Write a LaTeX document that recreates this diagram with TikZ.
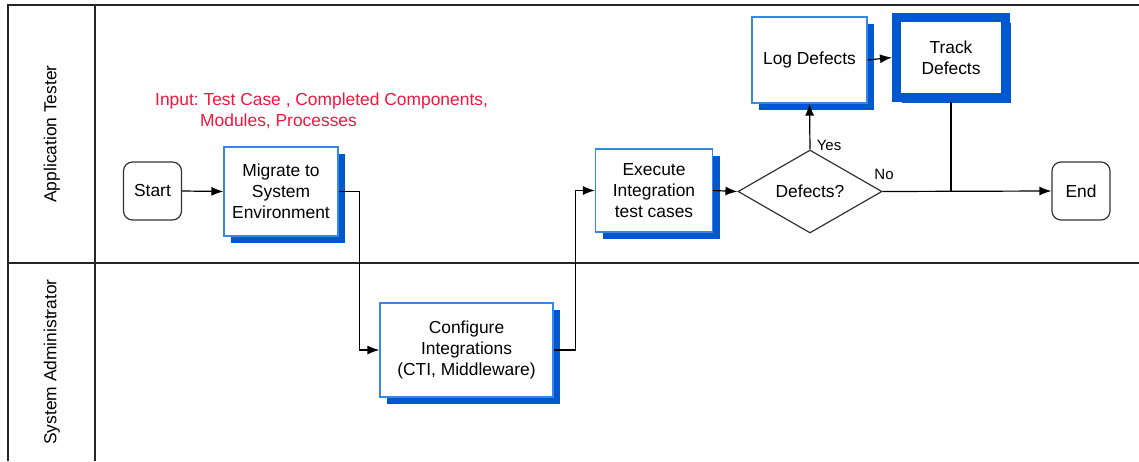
\documentclass[tikz,border=0pt]{standalone}
\usepackage{fontspec}
\setmainfont{Liberation Sans}
\usetikzlibrary{shapes.geometric,shadows,arrows.meta}
\definecolor{shadowblue}{RGB}{0,88,208}
\definecolor{boxblue}{RGB}{55,135,230}
\definecolor{inputred}{RGB}{245,20,60}
\frenchspacing
\tikzset{
  basefont/.style={font=\fontsize{17.4pt}{21pt}\selectfont},
  procbox/.style={basefont, draw=boxblue, line width=1.2pt, fill=white, align=center, inner sep=0pt,
    general shadow={fill=shadowblue, shadow xshift=7pt, shadow yshift=-7pt}},
  termbox/.style={basefont, draw=black!80, line width=1.2pt, fill=white, rounded corners=9pt, inner sep=0pt,
    minimum width=58pt, minimum height=58pt},
  decbox/.style={basefont, draw=black!80, line width=1.2pt, fill=white, shape=diamond, aspect=1.73, inner sep=0pt,
    minimum width=144pt, minimum height=83pt},
  trackbox/.style={basefont, draw=shadowblue, line width=9pt, fill=white, align=center, inner sep=0pt,
    general shadow={fill=shadowblue, shadow xshift=5pt, shadow yshift=-5pt}},
  conn/.style={draw=black, line width=1.2pt},
  arr/.style={conn, -{Latex[length=12pt,width=9pt]}},
  frameline/.style={draw=black!85, line width=1.4pt},
  lanelabel/.style={basefont, rotate=90, inner sep=0pt},
  smalllabel/.style={font=\fontsize{15pt}{18pt}\selectfont, inner sep=0pt}
}
\begin{document}
\begin{tikzpicture}[x=1pt,y=-1pt]
\useasboundingbox (0,0) rectangle (1139,461);
% frame
\draw[frameline] (8,461) -- (8,5) -- (1139,5);
\draw[frameline] (95,5) -- (95,461);
\draw[frameline] (8,263) -- (1139,263);
\node[lanelabel] (lane1) at (52,134) {Application Tester};
\node[lanelabel] (lane2) at (52,362) {System Administrator};
% input note
\node[basefont, text=inputred, anchor=west, align=left, inner sep=0pt] (input) at (155,110.5)
  {Input: Test Case , Completed Components,\\\hspace*{45pt}Modules, Processes};
% nodes
\node[termbox] (start) at (152.5,191) {Start};
\node[procbox, minimum width=114pt, minimum height=89pt] (migrate) at (281,191.5) {Migrate to\\System\\Environment};
\node[procbox, minimum width=173pt, minimum height=94pt] (configure) at (466.5,350) {Configure\\Integrations\\(CTI, Middleware)};
\node[procbox, minimum width=117pt, minimum height=83pt] (execute) at (654,190.5) {Execute\\Integration\\test cases};
\node[decbox] (decide) at (810,191.5) {Defects?};
\node[procbox, minimum width=115pt, minimum height=86pt] (logdef) at (809.5,60) {Log Defects};
\node[trackbox, minimum width=109pt, minimum height=80pt] (track) at (951,57.5) {Track\\Defects};
\node[termbox] (finish) at (1081,191) {End};
% connectors
\draw[arr] (start.east) -- (migrate.west);
\draw[arr] (migrate.east) -- ++(21,0) |- (configure.west);
\draw[arr] (configure.east) -- ++(22,0) |- (execute.west);
\draw[arr] (execute.east) -- (decide.west);
\draw[arr] (decide.north) -- (logdef.south);
\draw[arr] (logdef.east) -- (track.west);
\draw[arr] (decide.east) -- (finish.west);
\coordinate (join) at (track.south |- decide.east);
\draw[conn] (track.south) -- (join);
\node[smalllabel] (yes) at (829,145) {Yes};
\node[smalllabel] (no) at (884,174) {No};
\end{tikzpicture}
\end{document}
